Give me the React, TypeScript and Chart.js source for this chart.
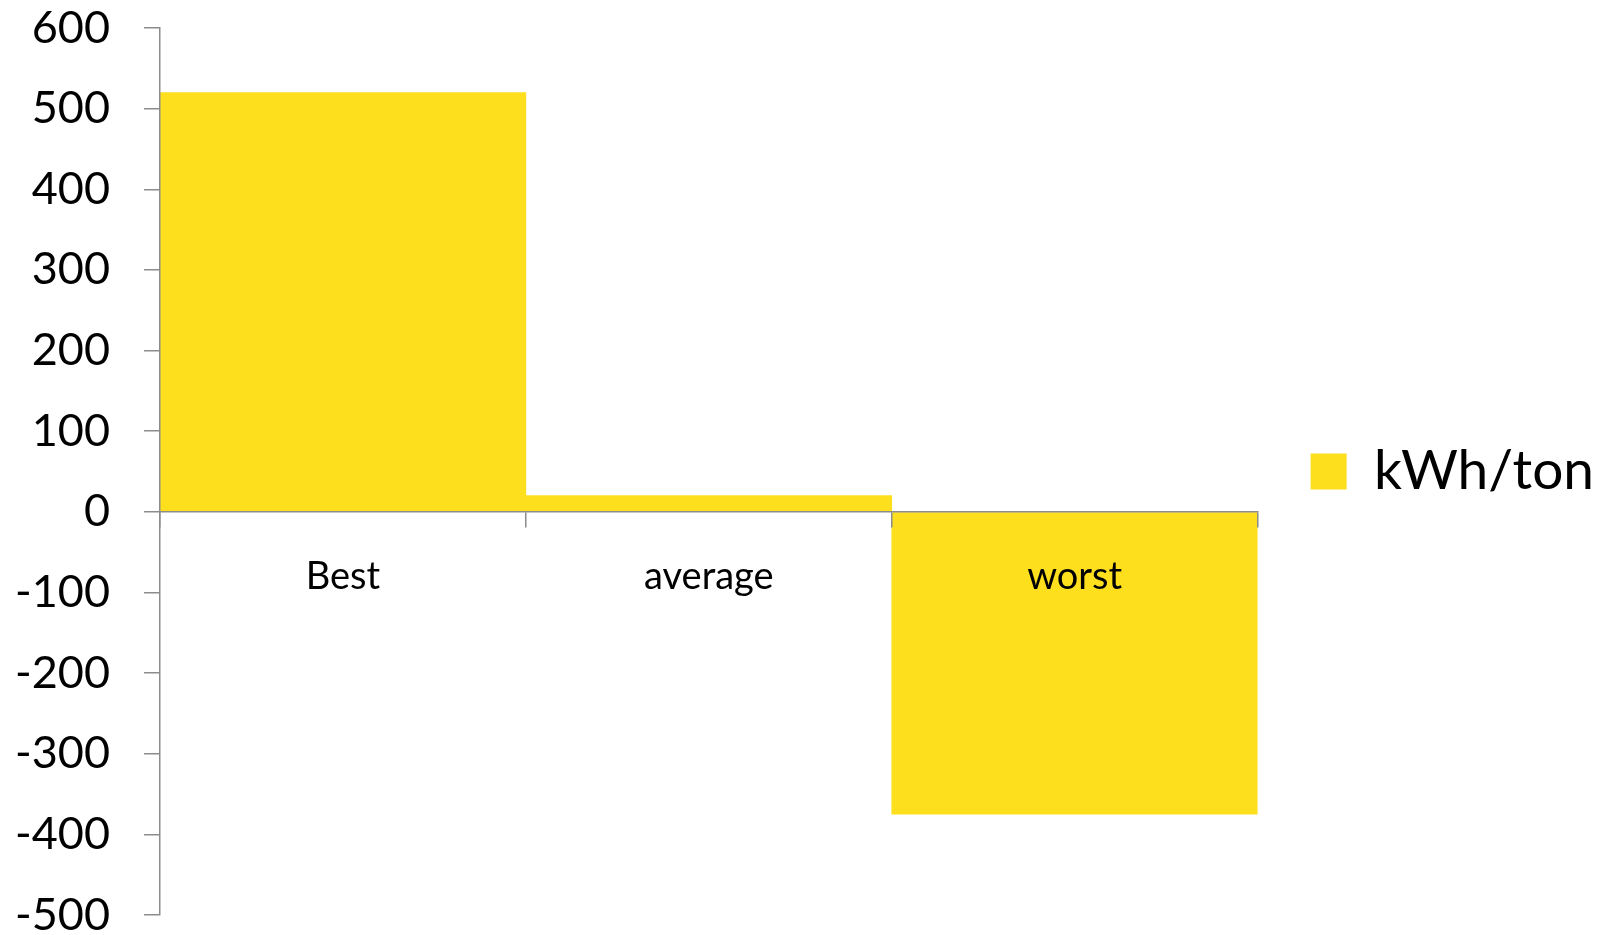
import React, { useEffect, useRef } from "react";
import { Chart, registerables } from "chart.js";

Chart.register(...registerables);

const categories = ["Best", "average", "worst"];
const kwhPerTon = [520, 20, -375];
const seriesLabel = "kWh/ton";
const yMin = -500;
const yMax = 600;
const yStep = 100;

const FONT = "Lato";
const YELLOW = "#FEDF1E";
const AXIS = "#8c8c8c";

export default function App() {
  const ref = useRef<HTMLCanvasElement>(null);

  useEffect(() => {
    document.body.style.margin = "0";
    document.body.style.overflow = "hidden";
    const chart = new Chart(ref.current as HTMLCanvasElement, {
      type: "bar",
      data: {
        labels: categories,
        datasets: [
          {
            label: seriesLabel,
            data: kwhPerTon,
            backgroundColor: YELLOW,
            borderWidth: 0,
            categoryPercentage: 1,
            barPercentage: 1,
          },
        ],
      },
      options: {
        animation: false,
        responsive: false,
        devicePixelRatio: 1,
        layout: { padding: { top: 28, bottom: 20, left: 0, right: 4 } },
        plugins: {
          tooltip: { enabled: false },
          legend: {
            position: "right",
            labels: {
              boxWidth: 36,
              boxHeight: 36,
              padding: 53,
              color: "#000",
              font: { family: FONT, size: 55 },
            },
          },
        },
        scales: {
          x: {
            type: "category",
            position: { y: 0 } as any,
            offset: true,
            grid: {
              offset: true,
              drawOnChartArea: false,
              drawTicks: true,
              tickLength: 15,
              color: AXIS,
              lineWidth: 1.5,
              z: 1,
            },
            border: { display: true, color: AXIS, width: 1.5, z: 1 },
            ticks: {
              color: "#000",
              padding: 27,
              maxRotation: 0,
              autoSkip: false,
              z: 1,
              font: { family: FONT, size: 38 },
            },
          },
          y: {
            min: yMin,
            max: yMax,
            afterFit: (scale: any) => {
              scale.width = 160;
              scale.paddingTop = 0;
              scale.paddingBottom = 0;
            },
            grid: {
              drawOnChartArea: false,
              drawTicks: true,
              tickLength: 16,
              color: AXIS,
              lineWidth: 1.5,
              z: 1,
            },
            border: { display: true, color: AXIS, width: 1.5, z: 1 },
            ticks: {
              stepSize: yStep,
              color: "#000",
              padding: 34,
              font: { family: FONT, size: 45, lineHeight: 0.8 },
            },
          },
        },
      },
    });
    return () => chart.destroy();
  }, []);

  return (
    <div style={{ position: "fixed", left: 0, top: 0, width: 1608, height: 935, background: "#fff" }}>
      <canvas ref={ref} width={1608} height={935} style={{ width: 1608, height: 935 }} />
    </div>
  );
}
